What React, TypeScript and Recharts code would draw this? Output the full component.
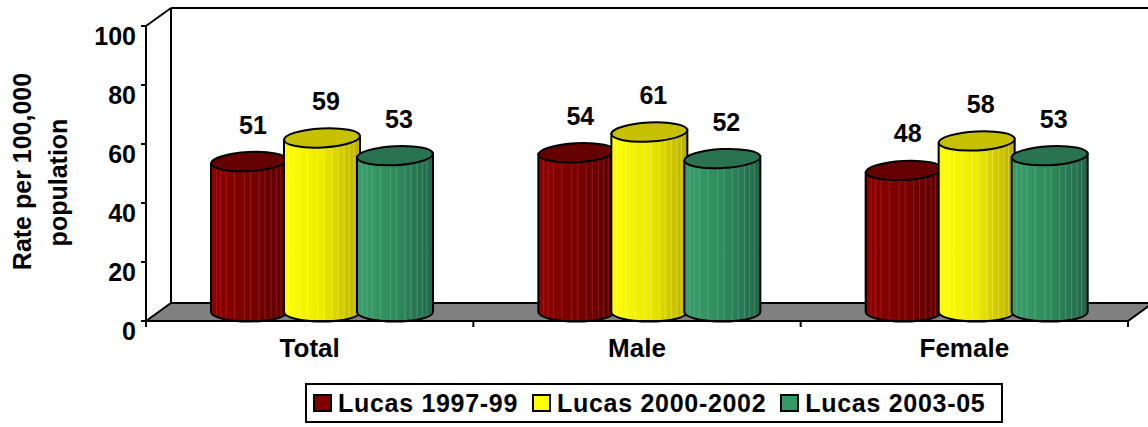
import React from 'react';
import { BarChart, Bar, XAxis, YAxis, ReferenceArea, Legend, LabelList } from 'recharts';

// ---- data ----
const categories = ['Total', 'Male', 'Female'];
const lucas1997_99 = [51, 54, 48];
const lucas2000_2002 = [59, 61, 58];
const lucas2003_05 = [53, 52, 53];
const seriesNames = ['Lucas 1997-99', 'Lucas 2000-2002', 'Lucas 2003-05'];
const yTicks = [0, 20, 40, 60, 80, 100];
const yTitle = ['Rate per 100,000', 'population'];

// ---- layout / style constants ----
const W = 1148;
const H = 427;
const PLOT_LEFT = 146;
const PLOT_TOP = 26;
const PLOT_RIGHT = 1128;
const PLOT_BOTTOM = 321;
const YAXIS_W = 100;
const XAXIS_H = 40;
const DEPTH_X = 25;
const DEPTH_Y = 18;
const FONT = '"Liberation Sans", Arial, sans-serif';
const BAND = (PLOT_RIGHT - PLOT_LEFT) / categories.length;

const data = categories.map((c, i) => ({
  category: c,
  s1: lucas1997_99[i],
  s2: lucas2000_2002[i],
  s3: lucas2003_05[i],
}));

const seriesStyle = [
  { key: 's1', solid: '#800000', top: '#640000', grad: 'gRed', stops: ['#8e0000', '#7a0000', '#5a0000'], stripe: '#c05050' },
  { key: 's2', solid: '#FFFF00', top: '#c6c000', grad: 'gYel', stops: ['#ffff00', '#ecea00', '#b9ae00'], stripe: '#ffffa0' },
  { key: 's3', solid: '#339966', top: '#2a7350', grad: 'gGrn', stops: ['#3c9e6c', '#2f8a5c', '#23664a'], stripe: '#7fcfa4' },
];

const STRIPES = [0.07, 0.13, 0.2, 0.31, 0.44, 0.52, 0.63, 0.71, 0.79, 0.86, 0.92];

const makeCylinder = (gradId: string, topFill: string, stripe: string) => (props: any) => {
  const { x, y, width, height } = props;
  if (x == null || y == null || !height) return <g />;
  const rx = (width + 3) / 2;
  const ry = 9.5;
  const cx = x + width / 2 + DEPTH_X / 2;
  const topCy = y - DEPTH_Y / 2;
  const botCy = y + height - DEPTH_Y / 2;
  const tilt = 3;
  const s = rx * Math.sin((tilt * Math.PI) / 180);
  const l = cx - rx;
  const r = cx + rx;
  const body = `M${l},${topCy + s} L${l},${botCy} A${rx},${ry} 0 0 0 ${r},${botCy} L${r},${topCy - s} Z`;
  return (
    <g>
      <path d={body} fill={`url(#${gradId})`} stroke="none" />
      {STRIPES.map((f, i) => {
        const sx = l + f * 2 * rx;
        const d = (sx - cx) / rx;
        const by = botCy + ry * Math.sqrt(Math.max(0, 1 - d * d)) - 1;
        return <line key={i} x1={sx} x2={sx} y1={topCy} y2={by} stroke={stripe} strokeOpacity={0.35} strokeWidth={1} />;
      })}
      <path d={body} fill="none" stroke="#000" strokeWidth={2} />
      <ellipse cx={cx} cy={topCy} rx={rx} ry={ry} transform={`rotate(${-tilt} ${cx} ${topCy})`} fill={topFill} stroke="#000" strokeWidth={2} />
    </g>
  );
};

const Walls = (props: any) => {
  const { x, y, width, height } = props;
  if (x == null) return <g />;
  const b = y + height;
  return (
    <g>
      {/* back wall */}
      <rect x={x + DEPTH_X} y={y - DEPTH_Y} width={width + 40} height={height} fill="#fff" stroke="none" />
      <line x1={x + DEPTH_X} y1={y - DEPTH_Y} x2={x + width + DEPTH_X + 40} y2={y - DEPTH_Y} stroke="#000" strokeWidth={2} />
      <line x1={x + DEPTH_X} y1={y - DEPTH_Y} x2={x + DEPTH_X} y2={b - DEPTH_Y} stroke="#000" strokeWidth={2} />
      {/* side wall top edge */}
      <line x1={x} y1={y} x2={x + DEPTH_X} y2={y - DEPTH_Y} stroke="#000" strokeWidth={2} />
      {/* floor */}
      <polygon
        points={`${x},${b} ${x + DEPTH_X},${b - DEPTH_Y} ${x + width + DEPTH_X},${b - DEPTH_Y} ${x + width},${b}`}
        fill="#808080"
        stroke="#000"
        strokeWidth={2}
        strokeLinejoin="miter"
      />
    </g>
  );
};

const YTick = (props: any) => {
  const { x, y, payload } = props;
  return (
    <text x={x} y={y + 10} dy="0.35em" textAnchor="end" fontFamily={FONT} fontWeight="bold" fontSize={25} fill="#000">
      {payload.value}
    </text>
  );
};

const XTick = (props: any) => {
  const { x, y, payload, index } = props;
  const axisY = y - 6;
  return (
    <g>
      {index === 0 && <line x1={x - BAND / 2} x2={x - BAND / 2} y1={axisY} y2={axisY + 6} stroke="#000" strokeWidth={2} />}
      <line x1={x + BAND / 2} x2={x + BAND / 2} y1={axisY} y2={axisY + 6} stroke="#000" strokeWidth={2} />
      <text x={x} y={y} dy={30} textAnchor="middle" fontFamily={FONT} fontWeight="bold" fontSize={26} fill="#000">
        {payload.value}
      </text>
    </g>
  );
};

const YTitle = (props: any) => {
  const vb = props.viewBox || { x: 46, y: PLOT_TOP, width: YAXIS_W, height: PLOT_BOTTOM - PLOT_TOP };
  const cy = vb.y + vb.height / 2;
  const b1 = vb.x - 15;
  const b2 = vb.x + 21;
  return (
    <g fontFamily={FONT} fontWeight="bold" fontSize={25} fill="#000">
      <text x={b1} y={cy - 2} textAnchor="middle" transform={`rotate(-90 ${b1} ${cy - 2})`}>{yTitle[0]}</text>
      <text x={b2} y={cy + 9} textAnchor="middle" transform={`rotate(-90 ${b2} ${cy + 9})`}>{yTitle[1]}</text>
    </g>
  );
};

const ValueLabel = (props: any) => {
  const { x, y, width, value } = props;
  if (x == null) return null;
  const cx = x + width / 2 + DEPTH_X / 2 + 4;
  return (
    <text x={cx} y={y - 37} textAnchor="middle" fontFamily={FONT} fontWeight="bold" fontSize={25} fill="#000">
      {value}
    </text>
  );
};

const LegendBox = () => (
  <div
    style={{
      boxSizing: 'border-box',
      width: 698,
      height: 40,
      border: '2px solid #000',
      background: '#fff',
      display: 'flex',
      alignItems: 'center',
      paddingLeft: 6,
      fontFamily: FONT,
      fontWeight: 'bold',
      fontSize: 25,
      letterSpacing: 0.7,
      color: '#000',
      whiteSpace: 'nowrap',
    }}
  >
    {seriesStyle.map((s, i) => (
      <div key={s.key} style={{ display: 'flex', alignItems: 'center', marginRight: 14 }}>
        <span style={{ display: 'inline-block', boxSizing: 'border-box', width: 19, height: 18, border: '2px solid #000', background: s.solid, marginRight: 6 }} />
        <span>{seriesNames[i]}</span>
      </div>
    ))}
  </div>
);

export default function App() {
  return (
    <div style={{ width: W, height: H, background: '#fff' }}>
      <style>{'body{margin:0;background:#fff}'}</style>
      <BarChart
        width={W}
        height={H}
        data={data}
        margin={{ top: PLOT_TOP, right: W - PLOT_RIGHT, left: PLOT_LEFT - YAXIS_W, bottom: H - PLOT_BOTTOM - XAXIS_H }}
        barSize={73}
        barGap={0}
      >
        <defs>
          {seriesStyle.map((s) => (
            <linearGradient key={s.grad} id={s.grad} x1="0" y1="0" x2="1" y2="0">
              <stop offset="0%" stopColor={s.stops[0]} />
              <stop offset="50%" stopColor={s.stops[1]} />
              <stop offset="100%" stopColor={s.stops[2]} />
            </linearGradient>
          ))}
        </defs>
        <ReferenceArea y1={0} y2={100} shape={(p: any) => <Walls {...p} />} ifOverflow="visible" />
        <XAxis
          dataKey="category"
          height={XAXIS_H}
          axisLine={{ stroke: '#000', strokeWidth: 2 }}
          tickLine={false}
          tickSize={6}
          tickMargin={0}
          interval={0}
          tick={<XTick />}
        />
        <YAxis
          type="number"
          domain={[0, 100]}
          ticks={yTicks}
          width={YAXIS_W}
          axisLine={{ stroke: '#000', strokeWidth: 2 }}
          tickLine={{ stroke: '#000', strokeWidth: 2 }}
          tickSize={5}
          tickMargin={5}
          interval={0}
          tick={<YTick />}
          label={(p: any) => <YTitle {...p} />}
        />
        {seriesStyle.map((s, i) => (
          <Bar
            key={s.key}
            dataKey={s.key}
            name={seriesNames[i]}
            fill={s.solid}
            isAnimationActive={false}
            shape={makeCylinder(s.grad, s.top, s.stripe)}
          >
            <LabelList dataKey={s.key} content={(p: any) => <ValueLabel {...p} />} />
          </Bar>
        ))}
        <Legend
          layout="horizontal"
          verticalAlign="middle"
          align="center"
          wrapperStyle={{ left: 305, top: 383, width: 698 }}
          content={() => <LegendBox />}
        />
      </BarChart>
    </div>
  );
}
